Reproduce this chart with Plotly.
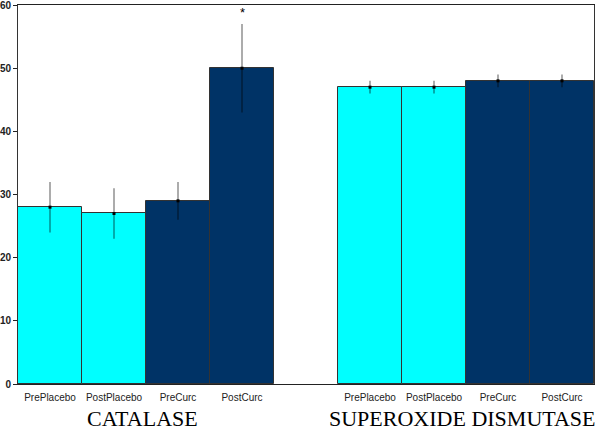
import plotly.graph_objects as go

# Data
groups = ["CATALASE", "SUPEROXIDE DISMUTASE"]
conditions = ["PrePlacebo", "PostPlacebo", "PreCurc", "PostCurc"]
catalase_values = [28, 27, 29, 50]
catalase_errors = [4, 4, 3, 7]
sod_values = [47, 47, 48, 48]
sod_errors = [1, 1, 1, 1]
y_ticks = [0, 10, 20, 30, 40, 50, 60]

cyan = "#00FFFF"
navy = "#003366"
colors = [cyan, cyan, navy, navy]

# positions: 4 bars, one empty slot, 4 bars
pos_cat = [0, 1, 2, 3]
pos_sod = [5, 6, 7, 8]

fig = go.Figure()
for pos, vals, errs in [(pos_cat, catalase_values, catalase_errors), (pos_sod, sod_values, sod_errors)]:
    fig.add_trace(go.Bar(
        x=pos, y=vals,
        marker=dict(color=colors, line=dict(color="#333333", width=1)),
        error_y=dict(type="data", array=errs, visible=True, color="rgba(0,0,0,0.5)",
                     thickness=1.3, width=0),
        showlegend=False,
    ))
    fig.add_trace(go.Scatter(
        x=pos, y=vals, mode="markers",
        marker=dict(color="black", size=3, symbol="square"),
        showlegend=False, hoverinfo="skip",
    ))

fig.add_annotation(x=3, y=57.3, xref="x", yref="y", text="*", showarrow=False,
                   yanchor="bottom", font=dict(family="Arial", size=13, color="black"))

for g, center in zip(groups, [1.45, 6.45]):
    fig.add_annotation(x=center, y=-0.092, xref="x", yref="paper", text=g, showarrow=False,
                       yanchor="middle", xanchor="center",
                       font=dict(family="Liberation Serif, Times New Roman, serif", size=22, color="black"))

fig.update_layout(
    width=600, height=432,
    margin=dict(l=18, r=6, t=5, b=48),
    paper_bgcolor="white", plot_bgcolor="white",
    bargap=0,
    font=dict(family="Arial, Liberation Sans, sans-serif", color="#222222"),
)
fig.update_xaxes(
    range=[-0.5, 8.5],
    tickvals=pos_cat + pos_sod,
    ticktext=conditions + conditions,
    tickfont=dict(size=10, color="#222222"),
    ticks="", showgrid=False, zeroline=False,
    showline=True, linecolor="#222222", linewidth=1, mirror=True,
    automargin=False, ticklabelstandoff=4,
)
fig.update_yaxes(
    range=[0, 60.01],
    tickvals=y_ticks,
    ticktext=["<b>%d</b>" % v for v in y_ticks],
    tickfont=dict(size=10, color="#222222"),
    ticks="outside", ticklen=4, tickcolor="#222222",
    showgrid=False, zeroline=False,
    showline=True, linecolor="#333333", linewidth=1, mirror=True,
    automargin=False, ticklabelstandoff=0, ticklabeloverflow="allow",
)

fig.write_html("out.html", config={"displayModeBar": False},
               post_script="document.body.style.margin='0';document.body.style.padding='0';")
